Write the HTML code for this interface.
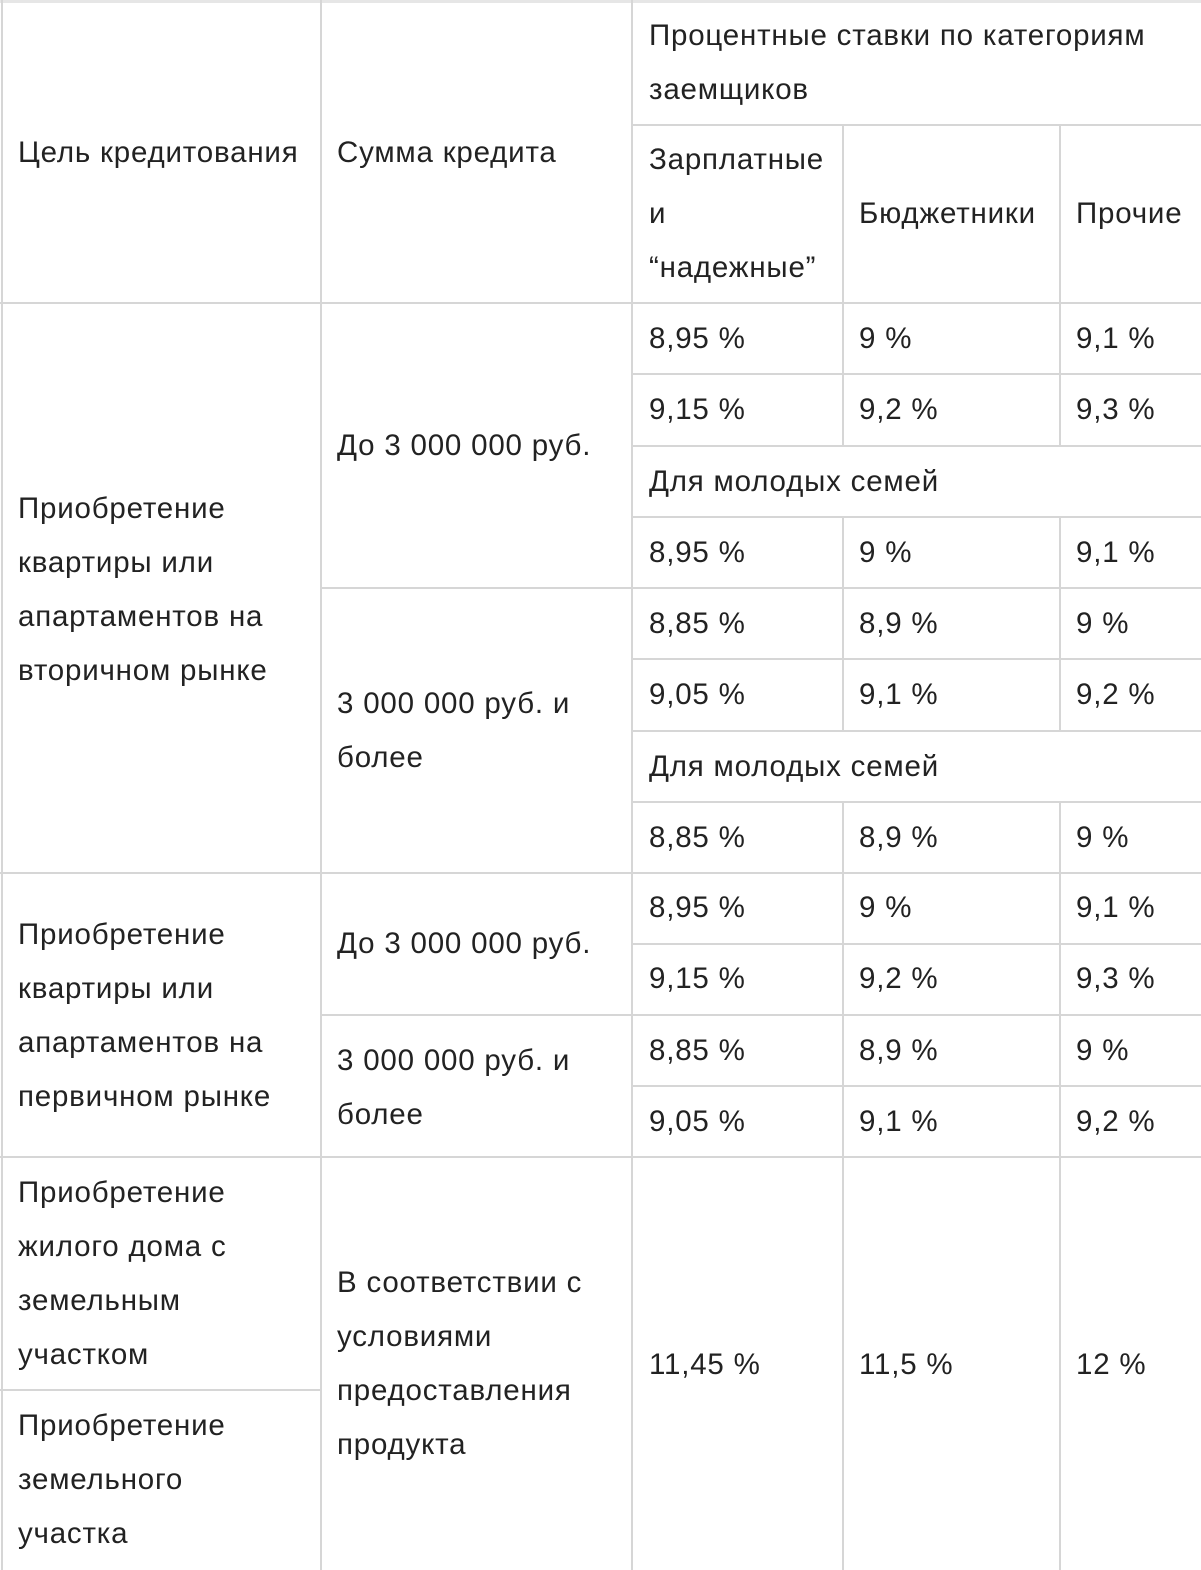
<!DOCTYPE html>
<html><head><meta charset="utf-8"><style>
body{margin:0;width:1201px;height:1570px;background:#fff;position:relative;overflow:hidden;font-family:"Liberation Sans","DejaVu Sans",sans-serif;font-size:29.5px;letter-spacing:0.8px;color:#222;}
.t{position:absolute;line-height:54px;white-space:nowrap;}
.h{position:absolute;height:2px;background:#d6d6d6;}
.v{position:absolute;width:2px;background:#d6d6d6;}
</style></head><body>
<div class="h" style="left:0;top:0;width:1201px;height:3px;background:#e6e6e6"></div>
<div class="h" style="left:632px;top:124px;width:569px"></div>
<div class="h" style="left:0;top:302px;width:1201px"></div>
<div class="h" style="left:632px;top:373px;width:569px"></div>
<div class="h" style="left:632px;top:445px;width:569px"></div>
<div class="h" style="left:632px;top:516px;width:569px"></div>
<div class="h" style="left:320px;top:587px;width:881px"></div>
<div class="h" style="left:632px;top:658px;width:569px"></div>
<div class="h" style="left:632px;top:730px;width:569px"></div>
<div class="h" style="left:632px;top:801px;width:569px"></div>
<div class="h" style="left:0;top:872px;width:1201px"></div>
<div class="h" style="left:632px;top:943px;width:569px"></div>
<div class="h" style="left:320px;top:1014px;width:881px"></div>
<div class="h" style="left:632px;top:1085px;width:569px"></div>
<div class="h" style="left:0;top:1156px;width:1201px"></div>
<div class="h" style="left:0;top:1389px;width:320px"></div>
<div class="v" style="left:1px;top:0;height:1570px"></div>
<div class="v" style="left:320px;top:0;height:1570px"></div>
<div class="v" style="left:631px;top:0;height:1570px"></div>
<div class="v" style="left:842px;top:124px;height:322px"></div>
<div class="v" style="left:1059px;top:124px;height:322px"></div>
<div class="v" style="left:842px;top:516px;height:215px"></div>
<div class="v" style="left:1059px;top:516px;height:215px"></div>
<div class="v" style="left:842px;top:801px;height:769px"></div>
<div class="v" style="left:1059px;top:801px;height:769px"></div>

<div class="t" style="left:649px;top:9px">Процентные ставки по категориям<br>заемщиков</div>
<div class="t" style="left:18px;top:126px">Цель кредитования</div>
<div class="t" style="left:337px;top:126px">Сумма кредита</div>
<div class="t" style="left:649px;top:133px">Зарплатные<br>и<br>“надежные”</div>
<div class="t" style="left:859px;top:187px">Бюджетники</div>
<div class="t" style="left:1076px;top:187px">Прочие</div>

<div class="t" style="left:18px;top:482px">Приобретение<br>квартиры или<br>апартаментов на<br>вторичном рынке</div>
<div class="t" style="left:337px;top:419px">До 3 000 000 руб.</div>
<div class="t" style="left:337px;top:677px">3 000 000 руб. и<br>более</div>

<div class="t" style="left:649px;top:312px">8,95 %</div><div class="t" style="left:859px;top:312px">9 %</div><div class="t" style="left:1076px;top:312px">9,1 %</div>
<div class="t" style="left:649px;top:383px">9,15 %</div><div class="t" style="left:859px;top:383px">9,2 %</div><div class="t" style="left:1076px;top:383px">9,3 %</div>
<div class="t" style="left:649px;top:455px">Для молодых семей</div>
<div class="t" style="left:649px;top:526px">8,95 %</div><div class="t" style="left:859px;top:526px">9 %</div><div class="t" style="left:1076px;top:526px">9,1 %</div>
<div class="t" style="left:649px;top:597px">8,85 %</div><div class="t" style="left:859px;top:597px">8,9 %</div><div class="t" style="left:1076px;top:597px">9 %</div>
<div class="t" style="left:649px;top:668px">9,05 %</div><div class="t" style="left:859px;top:668px">9,1 %</div><div class="t" style="left:1076px;top:668px">9,2 %</div>
<div class="t" style="left:649px;top:740px">Для молодых семей</div>
<div class="t" style="left:649px;top:811px">8,85 %</div><div class="t" style="left:859px;top:811px">8,9 %</div><div class="t" style="left:1076px;top:811px">9 %</div>

<div class="t" style="left:18px;top:908px">Приобретение<br>квартиры или<br>апартаментов на<br>первичном рынке</div>
<div class="t" style="left:337px;top:917px">До 3 000 000 руб.</div>
<div class="t" style="left:337px;top:1034px">3 000 000 руб. и<br>более</div>
<div class="t" style="left:649px;top:881px">8,95 %</div><div class="t" style="left:859px;top:881px">9 %</div><div class="t" style="left:1076px;top:881px">9,1 %</div>
<div class="t" style="left:649px;top:952px">9,15 %</div><div class="t" style="left:859px;top:952px">9,2 %</div><div class="t" style="left:1076px;top:952px">9,3 %</div>
<div class="t" style="left:649px;top:1024px">8,85 %</div><div class="t" style="left:859px;top:1024px">8,9 %</div><div class="t" style="left:1076px;top:1024px">9 %</div>
<div class="t" style="left:649px;top:1095px">9,05 %</div><div class="t" style="left:859px;top:1095px">9,1 %</div><div class="t" style="left:1076px;top:1095px">9,2 %</div>

<div class="t" style="left:18px;top:1166px">Приобретение<br>жилого дома с<br>земельным<br>участком</div>
<div class="t" style="left:18px;top:1399px">Приобретение<br>земельного<br>участка</div>
<div class="t" style="left:337px;top:1256px">В соответствии с<br>условиями<br>предоставления<br>продукта</div>
<div class="t" style="left:649px;top:1338px">11,45 %</div><div class="t" style="left:859px;top:1338px">11,5 %</div><div class="t" style="left:1076px;top:1338px">12 %</div>
</body></html>
